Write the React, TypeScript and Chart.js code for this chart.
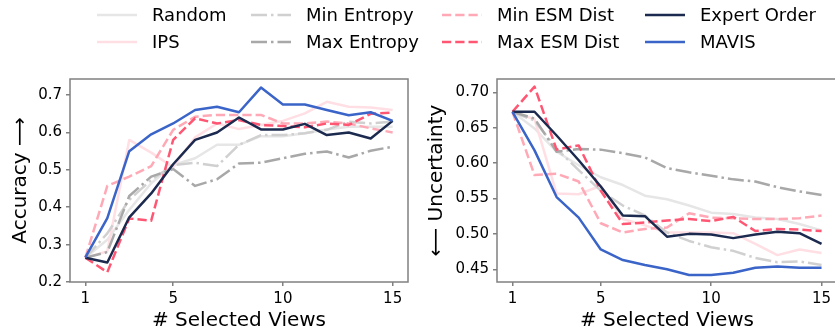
import React, { useEffect, useRef } from "react";
import { Chart, registerables } from "chart.js";

Chart.register(...registerables);

// ---------- data ----------
const views = [1, 2, 3, 4, 5, 6, 7, 8, 9, 10, 11, 12, 13, 14, 15];
const xTicks = [1, 5, 10, 15];
const accTicks = [0.2, 0.3, 0.4, 0.5, 0.6, 0.7];
const uncTicks = [0.45, 0.5, 0.55, 0.6, 0.65, 0.7];

const seriesNames = ["Random", "IPS", "Min Entropy", "Max Entropy", "Min ESM Dist", "Max ESM Dist", "Expert Order", "MAVIS"];

// Accuracy (left panel)
const accRandom = [0.265, 0.313, 0.393, 0.464, 0.513, 0.531, 0.567, 0.567, 0.59, 0.59, 0.598, 0.608, 0.615, 0.615, 0.615];
const accIPS = [0.265, 0.282, 0.58, 0.546, 0.507, 0.587, 0.624, 0.609, 0.62, 0.631, 0.651, 0.682, 0.669, 0.667, 0.66];
const accMinEntropy = [0.265, 0.33, 0.42, 0.473, 0.513, 0.519, 0.51, 0.567, 0.593, 0.593, 0.598, 0.607, 0.629, 0.624, 0.629];
const accMaxEntropy = [0.265, 0.28, 0.43, 0.482, 0.502, 0.457, 0.475, 0.517, 0.519, 0.531, 0.543, 0.549, 0.533, 0.551, 0.562];
const accMinESM = [0.265, 0.457, 0.482, 0.51, 0.607, 0.642, 0.647, 0.647, 0.647, 0.624, 0.624, 0.629, 0.624, 0.611, 0.6];
const accMaxESM = [0.265, 0.226, 0.37, 0.364, 0.58, 0.638, 0.624, 0.633, 0.62, 0.617, 0.614, 0.624, 0.62, 0.65, 0.653];
const accExpert = [0.265, 0.252, 0.373, 0.437, 0.515, 0.58, 0.6, 0.64, 0.608, 0.608, 0.623, 0.593, 0.6, 0.584, 0.631];
const accMAVIS = [0.266, 0.371, 0.55, 0.595, 0.624, 0.66, 0.669, 0.654, 0.72, 0.675, 0.675, 0.66, 0.646, 0.654, 0.631];

// Uncertainty (right panel)
const uncRandom = [0.6725, 0.649, 0.616, 0.597, 0.58, 0.569, 0.554, 0.549, 0.54, 0.53, 0.528, 0.523, 0.521, 0.514, 0.505];
const uncIPS = [0.6725, 0.662, 0.557, 0.556, 0.568, 0.521, 0.512, 0.502, 0.502, 0.502, 0.501, 0.486, 0.47, 0.478, 0.473];
const uncMinEntropy = [0.6725, 0.66, 0.62, 0.59, 0.561, 0.54, 0.526, 0.502, 0.49, 0.481, 0.476, 0.466, 0.46, 0.461, 0.456];
const uncMaxEntropy = [0.6725, 0.663, 0.616, 0.62, 0.619, 0.614, 0.608, 0.593, 0.587, 0.582, 0.577, 0.574, 0.566, 0.56, 0.555];
const uncMinESM = [0.6725, 0.583, 0.585, 0.574, 0.515, 0.502, 0.507, 0.509, 0.529, 0.523, 0.522, 0.521, 0.521, 0.522, 0.526];
const uncMaxESM = [0.6725, 0.708, 0.619, 0.625, 0.561, 0.514, 0.516, 0.519, 0.521, 0.518, 0.524, 0.504, 0.507, 0.506, 0.504];
const uncExpert = [0.6725, 0.6725, 0.639, 0.604, 0.567, 0.526, 0.525, 0.496, 0.5, 0.499, 0.494, 0.499, 0.503, 0.501, 0.486];
const uncMAVIS = [0.6725, 0.618, 0.552, 0.523, 0.478, 0.463, 0.456, 0.45, 0.442, 0.442, 0.445, 0.452, 0.454, 0.452, 0.452];

const accSeries = [accRandom, accIPS, accMinEntropy, accMaxEntropy, accMinESM, accMaxESM, accExpert, accMAVIS];
const uncSeries = [uncRandom, uncIPS, uncMinEntropy, uncMaxEntropy, uncMinESM, uncMaxESM, uncExpert, uncMAVIS];

// ---------- styles ----------
const LW = 2.5;
const DASH = [9.25, 4];
const DASHDOT = [16, 4, 2.5, 4];
const seriesColors = ["#e6e6e6", "#ffdfe4", "#d0d0d0", "#a8a8a8", "#ffa9b6", "#ff5773", "#1b2a4e", "#3a64c8"];
const seriesDash: number[][] = [[], [], DASHDOT, DASHDOT, DASH, DASH, [], []];

const FONT = "'DejaVu Sans', sans-serif";
const SPINE = "#808080";

const boxPlugin = {
  id: "boxSpines",
  afterDatasetsDraw(chart: any) {
    const { ctx, chartArea } = chart;
    ctx.save();
    ctx.strokeStyle = SPINE;
    ctx.lineWidth = 1.5;
    ctx.setLineDash([]);
    ctx.strokeRect(chartArea.left, chartArea.top, chartArea.right - chartArea.left, chartArea.bottom - chartArea.top);
    ctx.restore();
  },
};

function makeConfig(series: number[][], yMin: number, yMax: number, yTicks: number[], decimals: number, yTitle: string, yAxisWidth: number, rightPad: number, titlePad: number): any {
  return {
    type: "line",
    data: {
      datasets: series.map((arr, i) => ({
        label: seriesNames[i],
        data: views.map((v, j) => ({ x: v, y: arr[j] })),
        borderColor: seriesColors[i],
        backgroundColor: seriesColors[i],
        borderWidth: LW,
        borderDash: seriesDash[i],
        borderCapStyle: "butt",
        borderJoinStyle: "round",
        pointRadius: 0,
        tension: 0,
        fill: false,
        order: series.length - 1 - i,
      })),
    },
    options: {
      responsive: false,
      animation: false,
      layout: { padding: { top: 79, right: rightPad, left: 0, bottom: 0 } },
      plugins: { legend: { display: false }, tooltip: { enabled: false } },
      scales: {
        x: {
          type: "linear",
          min: 0.3,
          max: 15.7,
          afterBuildTicks: (scale: any) => {
            scale.ticks = xTicks.map((v) => ({ value: v }));
          },
          afterFit: (scale: any) => {
            scale.height = 53;
          },
          grid: { drawOnChartArea: false, drawTicks: true, tickLength: 4, color: SPINE, lineWidth: 1.5 },
          border: { display: false },
          ticks: {
            font: { family: FONT, size: 15 },
            color: "#000",
            padding: 4,
            maxRotation: 0,
            callback: (v: any) => String(v),
          },
          title: {
            display: true,
            text: "# Selected Views",
            font: { family: FONT, size: 20, lineHeight: 1.2 },
            color: "#000",
            padding: { top: 0, bottom: 2 },
          },
        },
        y: {
          type: "linear",
          min: yMin,
          max: yMax,
          afterBuildTicks: (scale: any) => {
            scale.ticks = yTicks.map((v) => ({ value: v }));
          },
          afterFit: (scale: any) => {
            scale.width = yAxisWidth;
          },
          grid: { drawOnChartArea: false, drawTicks: true, tickLength: 4, color: SPINE, lineWidth: 1.5 },
          border: { display: false },
          ticks: {
            font: { family: FONT, size: 15 },
            color: "#000",
            padding: 4,
            callback: (v: any) => Number(v).toFixed(decimals),
          },
          title: {
            display: true,
            text: yTitle,
            font: { family: FONT, size: 20, lineHeight: 1.2 },
            color: "#000",
            padding: { top: titlePad, bottom: 0 },
          },
        },
      },
    },
    plugins: [boxPlugin],
  };
}

const legendCols = [97, 251, 442, 645];
const legendRows = [14.5, 42.3];

function LegendItem({ idx }: { idx: number }) {
  const col = Math.floor(idx / 2);
  const row = idx % 2;
  const x = legendCols[col];
  const y = legendRows[row];
  const dash = seriesDash[idx].length ? seriesDash[idx].join(",") : undefined;
  return (
    <>
      <svg
        width={40}
        height={8}
        style={{ position: "absolute", left: x, top: y - 4, overflow: "visible" }}
      >
        <line x1={0} y1={4} x2={40} y2={4} stroke={seriesColors[idx]} strokeWidth={LW} strokeDasharray={dash} strokeLinecap="butt" />
      </svg>
      <div
        style={{
          position: "absolute",
          left: x + 55,
          top: y - 9,
          fontFamily: FONT,
          fontSize: 18,
          lineHeight: "18px",
          color: "#000",
          whiteSpace: "nowrap",
        }}
      >
        {seriesNames[idx]}
      </div>
    </>
  );
}

export default function App() {
  const leftRef = useRef<HTMLCanvasElement>(null);
  const rightRef = useRef<HTMLCanvasElement>(null);

  useEffect(() => {
    const c1 = new Chart(leftRef.current as HTMLCanvasElement, makeConfig(accSeries, 0.2, 0.743, accTicks, 1, "Accuracy ⟶", 70, 7, 9));
    const c2 = new Chart(rightRef.current as HTMLCanvasElement, makeConfig(uncSeries, 0.432, 0.7188, uncTicks, 2, "⟵ Uncertainty", 82, 3, 10));
    return () => {
      c1.destroy();
      c2.destroy();
    };
  }, []);

  return (
    <div style={{ position: "fixed", left: 0, top: 0, width: 835, height: 335, overflow: "hidden", background: "#fff" }}>
      <canvas ref={leftRef} width={415} height={335} style={{ position: "absolute", left: 0, top: 0 }} />
      <canvas ref={rightRef} width={425} height={335} style={{ position: "absolute", left: 415, top: 0 }} />
      {seriesNames.map((_, i) => (
        <LegendItem key={i} idx={i} />
      ))}
    </div>
  );
}
